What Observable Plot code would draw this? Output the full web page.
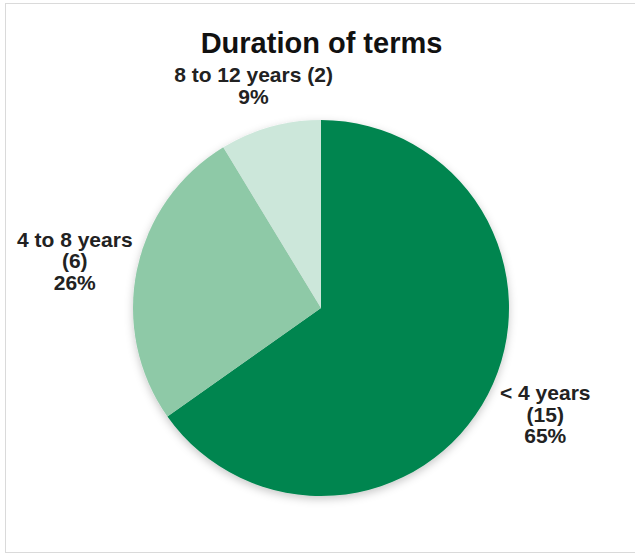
<!DOCTYPE html>
<html><head><meta charset="utf-8">
<script src="https://cdn.jsdelivr.net/npm/d3@7"></script>
<script src="https://cdn.jsdelivr.net/npm/@observablehq/plot@0.6"></script>
<style>
html,body{margin:0;padding:0;background:#fff;overflow:hidden;}
#chart{position:absolute;left:0;top:0;}
#frame{position:absolute;left:5px;top:3px;width:700px;height:548px;border:1.5px solid #dadada;pointer-events:none;z-index:2;}
</style></head><body>
<div id="chart"></div>
<div id="frame"></div>
<script>
const title = "Duration of terms";
const categories = ["< 4 years", "4 to 8 years", "8 to 12 years"];
const counts = [15, 6, 2];
const colors = ["#00854f", "#8ec9a7", "#cce7da"];
const labelSep = ["\n", "\n", " "];

const W = 635, H = 554, CX = 321, CY = 308, R = 188;
const LABEL_RX = 252, LABEL_RY = 231;
const total = d3.sum(counts);
const pie = d3.pie().sort(null).value(d => d.count)(categories.map((category, i) => ({category, count: counts[i]})));
const slices = pie.map((p, i) => ({
  category: p.data.category,
  count: p.data.count,
  start: p.startAngle,
  end: p.endAngle,
  mid: (p.startAngle + p.endAngle) / 2,
  label: `${p.data.category}${labelSep[i]}(${p.data.count})\n${Math.round(p.data.count / total * 100)}%`
}));

function pieMark(data) {
  return Plot.dot(data, {
    x: () => 0, y: () => 0, fill: "category",
    render(index, scales, values) {
      const g = d3.create("svg:g").attr("filter", "url(#pieShadow)");
      const r = scales.x(R) - scales.x(0);
      const arc = d3.arc().innerRadius(0).outerRadius(r);
      for (const i of index) {
        g.append("path")
          .attr("transform", `translate(${values.x[i]},${values.y[i]})`)
          .attr("d", arc({startAngle: data[i].start, endAngle: data[i].end}))
          .attr("fill", values.fill[i]);
      }
      return g.node();
    }
  });
}

const plot = Plot.plot({
  width: W, height: H, margin: 0,
  style: {background: "transparent", fontFamily: "'Liberation Sans', Arial, sans-serif"},
  x: {domain: [-CX, W - CX], range: [0, W], axis: null},
  y: {domain: [-CY, H - CY], range: [0, H], axis: null},
  color: {domain: categories, range: colors},
  marks: [
    pieMark(slices),
    Plot.text([title], {x: () => 0, frameAnchor: "top", dy: 43, lineAnchor: "middle", text: d => d, fontSize: 29, fontWeight: "bold", fill: "#111"}),
    Plot.text(slices, {
      x: d => LABEL_RX * Math.sin(d.mid),
      y: d => -LABEL_RY * Math.cos(d.mid),
      text: "label", fontSize: 21, fontWeight: "bold", lineHeight: 1.03, fill: "#222"
    })
  ]
});

const defs = d3.select(plot).insert("defs", ":first-child");
defs.append("filter").attr("id", "pieShadow").attr("x", "-20%").attr("y", "-20%").attr("width", "140%").attr("height", "140%")
  .append("feDropShadow").attr("dx", 0).attr("dy", 3).attr("stdDeviation", 4)
  .attr("flood-color", "#000").attr("flood-opacity", 0.22);

document.getElementById("chart").appendChild(plot);
</script>
</body></html>
